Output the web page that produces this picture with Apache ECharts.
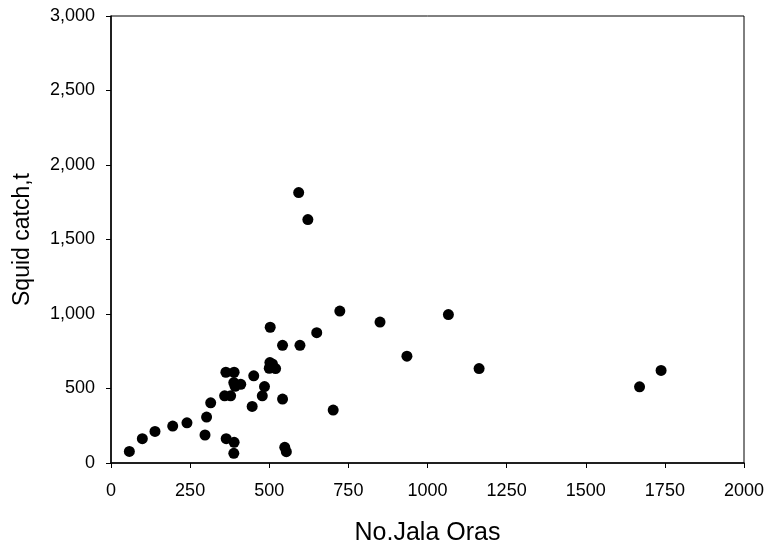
<!DOCTYPE html>
<html>
<head>
<meta charset="utf-8">
<script src="https://cdn.jsdelivr.net/npm/echarts@6/dist/echarts.min.js"></script>
<style>
html,body{margin:0;padding:0;background:#fff;}
#chart{width:768px;height:551px;}
</style>
</head>
<body>
<div id="chart"></div>
<script>
// number of jala oras vs squid catch (t)
var jalaOras = [58, 99, 139, 195, 240, 297, 302, 315, 363, 389, 359, 378, 388, 392, 410,
	364, 389, 388, 446, 451, 478, 485, 502, 510, 500, 520, 542, 597, 542, 549, 554,
	650, 702, 503, 593, 622, 723, 850, 1066, 935, 1163, 1670, 1738];
var squidCatch = [78, 163, 212, 248, 270, 188, 308, 404, 609, 609, 451, 451, 540, 515, 528,
	163, 139, 65, 380, 585, 451, 513, 674, 665, 636, 634, 790, 790, 429, 105, 76,
	875, 355, 911, 1815, 1634, 1020, 946, 996, 717, 634, 511, 621];

function getPoints(xs, ys){
	var a = [];
	for(var i = 0; i < xs.length; i++){
		a.push([xs[i], ys[i]]);
	}
	return a;
}

var font = 'Liberation Sans, Arial, sans-serif';
var myChart = echarts.init(document.getElementById('chart'));
myChart.setOption({
	animation: false,
	backgroundColor: '#fff',
	grid: {left: 111, right: 24, top: 16, bottom: 87, show: true, borderColor: '#000', borderWidth: 1},
	xAxis: {
		type: 'value', min: 0, max: 2000, interval: 250,
		name: 'No.Jala Oras', nameLocation: 'middle', nameGap: 58,
		nameTextStyle: {fontFamily: font, fontSize: 25, color: '#000'},
		axisLine: {lineStyle: {color: '#000', width: 1.5}},
		axisTick: {show: true, inside: false, length: 5, lineStyle: {color: '#000'}},
		axisLabel: {fontFamily: font, fontSize: 18, color: '#000', margin: 19,
			formatter: function(v){ return String(v); }},
		splitLine: {show: false}
	},
	yAxis: {
		type: 'value', min: 0, max: 3000, interval: 500,
		name: 'Squid catch,t', nameLocation: 'middle', nameGap: 77,
		nameTextStyle: {fontFamily: font, fontSize: 23, color: '#000'},
		axisLine: {show: true, lineStyle: {color: '#000', width: 1.5}},
		axisTick: {show: true, inside: false, length: 5, lineStyle: {color: '#000'}},
		axisLabel: {fontFamily: font, fontSize: 18, color: '#000', margin: 16,
			formatter: function(v){ return v.toLocaleString('en-US'); }},
		splitLine: {show: false}
	},
	series: [{
		type: 'scatter',
		symbol: 'circle',
		symbolSize: 11,
		itemStyle: {color: '#000', opacity: 1},
		data: getPoints(jalaOras, squidCatch)
	}]
});
</script>
</body>
</html>
